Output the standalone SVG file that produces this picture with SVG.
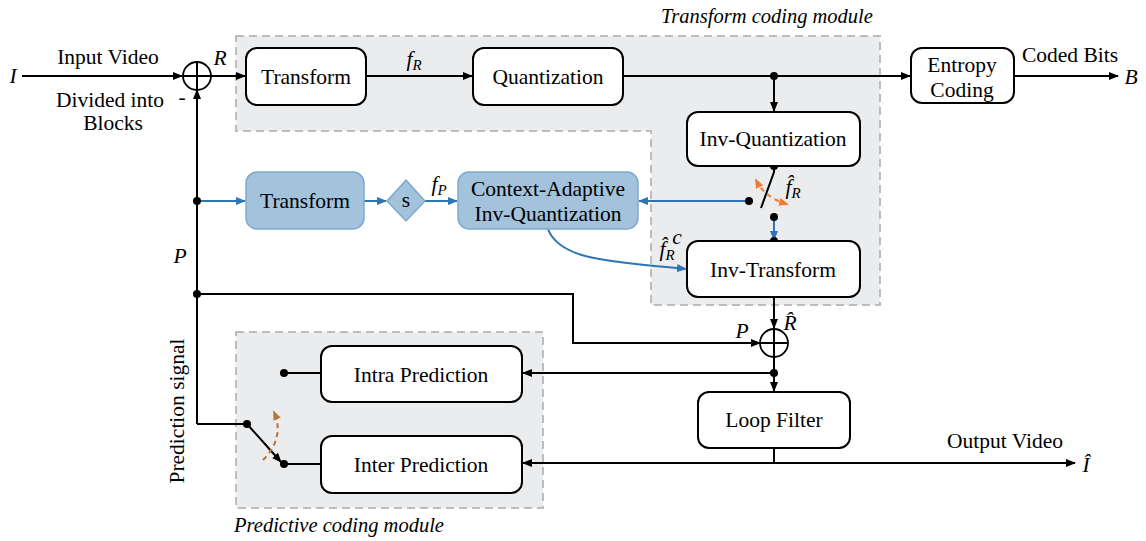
<svg xmlns="http://www.w3.org/2000/svg" width="1146" height="541" viewBox="0 0 1146 541">
  <style>
    .box { fill: #ffffff; stroke: #000; stroke-width: 2; }
    .bbox { fill: #A3C2DB; stroke: #7FAACF; stroke-width: 1.5; }
    .region { fill: #EBECEE; stroke: #BDBDBD; stroke-width: 2; stroke-dasharray: 8 5; }
    .ln { fill: none; stroke: #000; stroke-width: 2; }
    .lnA { fill: none; stroke: #000; stroke-width: 2; marker-end: url(#ah); }
    .blue { fill: none; stroke: #2E75B6; stroke-width: 2; marker-end: url(#ahb); }
    .dot { fill: #000; }
    text { font-family: "Liberation Serif", "DejaVu Serif", "Times New Roman", serif; fill: #000; }
    .lbl { font-size: 21.5px; text-anchor: middle; }
    .it { font-style: italic; }
    .mod { font-size: 20.5px; }
  </style>
  <defs>
    <marker id="ah" viewBox="0 0 10 10" refX="9" refY="5" markerWidth="5" markerHeight="5" orient="auto">
      <path d="M0 1 L10 5 L0 9 Z" fill="#000"/>
    </marker>
    <marker id="ahb" viewBox="0 0 10 10" refX="9" refY="5" markerWidth="5" markerHeight="5" orient="auto">
      <path d="M0 1 L10 5 L0 9 Z" fill="#2E75B6"/>
    </marker>
    <marker id="aho" viewBox="0 0 10 10" refX="8" refY="5" markerWidth="5" markerHeight="5" orient="auto-start-reverse">
      <path d="M0 1 L10 5 L0 9 Z" fill="#ED7D31"/>
    </marker>
    <marker id="ahbr" viewBox="0 0 10 10" refX="8" refY="5" markerWidth="5" markerHeight="5" orient="auto">
      <path d="M0 1 L10 5 L0 9 Z" fill="#B5773B"/>
    </marker>
  </defs>

  <!-- module backgrounds -->
  <g id="transform-module">
    <path class="region" d="M236 36 H880 V305 H651 V131 H236 Z"/>
    <text x="767" y="23" class="lbl it mod">Transform coding module</text>
  </g>
  <g id="predictive-module">
    <rect class="region" x="236" y="332" width="307" height="176"/>
    <text x="339" y="532" class="lbl it mod">Predictive coding module</text>
  </g>

  <!-- connectors -->
  <g id="connectors">
    <line class="lnA" x1="22" y1="76" x2="182" y2="76"/>
    <line class="lnA" x1="211" y1="76" x2="245" y2="76"/>
    <line class="lnA" x1="366" y1="76" x2="472" y2="76"/>
    <line class="lnA" x1="623" y1="76" x2="910" y2="76"/>
    <line class="lnA" x1="1014" y1="76" x2="1118" y2="76"/>
    <line class="lnA" x1="774" y1="76" x2="774" y2="111"/>
    <!-- switch in reconstruction path -->
    <polyline class="ln" points="774,166 774,172 761,208"/>
    <line class="blue" x1="774" y1="217" x2="774" y2="240"/>
    <line class="blue" x1="749" y1="201" x2="639" y2="201"/>
    <path d="M756 180 Q765 198 787 204" fill="none" stroke="#ED7D31" stroke-width="2" stroke-dasharray="5 4" marker-start="url(#aho)" marker-end="url(#aho)"/>
    <!-- prediction branch -->
    <line class="ln" x1="197" y1="424" x2="197" y2="100"/>
    <line class="lnA" x1="197" y1="100" x2="197" y2="90"/>
    <line class="blue" x1="197" y1="201" x2="245" y2="201"/>
    <line class="blue" x1="364" y1="201" x2="386" y2="201"/>
    <line class="blue" x1="425" y1="201" x2="457" y2="201"/>
    <path class="blue" d="M548 229 C560 262 620 262 686 269"/>
    <polyline class="lnA" points="197,294 573,294 573,343 760,343"/>
    <line class="lnA" x1="774" y1="297" x2="774" y2="328"/>
    <line class="lnA" x1="774" y1="357" x2="774" y2="391"/>
    <line class="lnA" x1="774" y1="373" x2="523" y2="373"/>
    <line class="ln" x1="774" y1="448" x2="774" y2="463"/>
    <line class="lnA" x1="774" y1="463" x2="523" y2="463"/>
    <line class="lnA" x1="774" y1="463" x2="1075" y2="463"/>
    <line class="ln" x1="321" y1="373" x2="284" y2="373"/>
    <line class="ln" x1="321" y1="464" x2="284" y2="464"/>
    <polyline class="ln" points="197,424 247,424"/>
    <line class="lnA" x1="247" y1="424" x2="281" y2="462"/>
    <path d="M263 460 Q285 438 274 412" fill="none" stroke="#B5773B" stroke-width="2" stroke-dasharray="5 4" marker-end="url(#ahbr)"/>
    <!-- junction dots -->
    <circle class="dot" cx="774" cy="76" r="4"/>
    <circle class="dot" cx="774" cy="166" r="4"/>
    <circle class="dot" cx="749" cy="201" r="4"/>
    <circle class="dot" cx="774" cy="217" r="4"/>
    <circle class="dot" cx="774" cy="241" r="4"/>
    <circle class="dot" cx="197" cy="201" r="4"/>
    <circle class="dot" cx="197" cy="294" r="4"/>
    <circle class="dot" cx="774" cy="373" r="4"/>
    <circle class="dot" cx="284" cy="373" r="4"/>
    <circle class="dot" cx="284" cy="464" r="4"/>
    <circle class="dot" cx="247" cy="424" r="4"/>
  </g>

  <!-- adders -->
  <g id="adder-residual">
    <circle cx="197" cy="76" r="14" fill="#fff" stroke="#000" stroke-width="1.8"/>
    <path class="ln" d="M183 76 H211 M197 62 V90" stroke-width="1.5"/>
  </g>
  <g id="adder-recon">
    <circle cx="774" cy="343" r="14" fill="#fff" stroke="#000" stroke-width="1.8"/>
    <path class="ln" d="M760 343 H788 M774 329 V357" stroke-width="1.5"/>
  </g>

  <!-- nodes -->
  <g id="transform">
    <rect class="box" x="246" y="48" width="120" height="57" rx="11"/>
    <text x="306" y="84" class="lbl">Transform</text>
  </g>
  <g id="quantization">
    <rect class="box" x="473" y="48" width="150" height="57" rx="11"/>
    <text x="548" y="84" class="lbl">Quantization</text>
  </g>
  <g id="entropy-coding">
    <rect class="box" x="911" y="48" width="103" height="55" rx="11"/>
    <text x="962" y="72" class="lbl">Entropy</text>
    <text x="962" y="97" class="lbl">Coding</text>
  </g>
  <g id="inv-quantization">
    <rect class="box" x="687" y="112" width="173" height="54" rx="11"/>
    <text x="773" y="146" class="lbl">Inv-Quantization</text>
  </g>
  <g id="inv-transform">
    <rect class="box" x="687" y="241" width="173" height="56" rx="11"/>
    <text x="773" y="277" class="lbl">Inv-Transform</text>
  </g>
  <g id="transform-p">
    <rect class="bbox" x="246" y="172" width="118" height="57" rx="11"/>
    <text x="305" y="208" class="lbl">Transform</text>
  </g>
  <g id="scale">
    <polygon class="bbox" points="406,180 425,201 406,221 387,201"/>
    <text x="406" y="207" class="lbl" font-size="18">s</text>
  </g>
  <g id="ca-inv-quantization">
    <rect class="bbox" x="458" y="172" width="180" height="57" rx="11"/>
    <text x="548" y="196" class="lbl">Context-Adaptive</text>
    <text x="548" y="221" class="lbl">Inv-Quantization</text>
  </g>
  <g id="intra-prediction">
    <rect class="box" x="321" y="346" width="201" height="56" rx="11"/>
    <text x="421" y="382" class="lbl">Intra Prediction</text>
  </g>
  <g id="inter-prediction">
    <rect class="box" x="321" y="436" width="201" height="57" rx="11"/>
    <text x="421" y="472" class="lbl">Inter Prediction</text>
  </g>
  <g id="loop-filter">
    <rect class="box" x="698" y="392" width="152" height="56" rx="11"/>
    <text x="774" y="427" class="lbl">Loop Filter</text>
  </g>

  <!-- signal labels -->
  <g id="labels">
    <text x="13" y="83" class="lbl it">I</text>
    <text x="108" y="64" class="lbl">Input Video</text>
    <text x="110" y="107" class="lbl">Divided into</text>
    <text x="113" y="130" class="lbl">Blocks</text>
    <text x="182" y="104" class="lbl">-</text>
    <text x="220" y="65" class="lbl it">R</text>
    <text x="414" y="66" class="lbl it">f<tspan font-size="15" dy="4">R</tspan></text>
    <text x="1070" y="62" class="lbl">Coded Bits</text>
    <text x="1131" y="84" class="lbl it">B</text>
    <text x="439" y="191" class="lbl it">f<tspan font-size="15" dy="4">P</tspan></text>
    <text x="793" y="194" class="lbl it">f&#x302;<tspan font-size="15" dy="4">R</tspan></text>
    <text x="667" y="256" class="lbl it">f&#x302;<tspan font-size="15" dy="4">R</tspan></text>
    <text x="677" y="244" class="lbl it" font-size="15">c</text>
    <text x="180" y="263" class="lbl it">P</text>
    <text x="742" y="338" class="lbl it">P</text>
    <text x="790" y="330" class="lbl it">R&#x302;</text>
    <text x="1005" y="448" class="lbl">Output Video</text>
    <text x="1086" y="472" class="lbl it">Î</text>
    <text class="lbl" transform="translate(184 411) rotate(-90)">Prediction signal</text>
  </g>
</svg>
